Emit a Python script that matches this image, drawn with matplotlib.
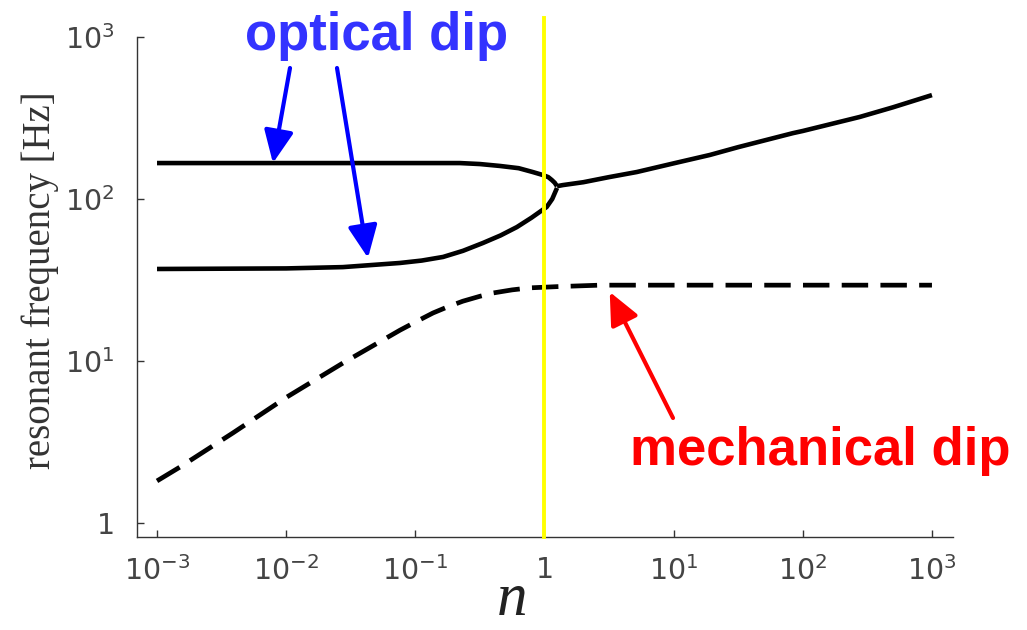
import matplotlib
matplotlib.use("Agg")
import matplotlib.pyplot as plt
from matplotlib.ticker import FixedLocator, FixedFormatter, NullLocator

plt.rcParams['font.family'] = ['DejaVu Sans']
plt.rcParams['mathtext.fontset'] = 'custom'
plt.rcParams['mathtext.rm'] = 'DejaVu Sans'
plt.rcParams['mathtext.it'] = 'Liberation Serif:italic'

# ---- data ----
opt_upper_n = [1e-3, 0.01, 0.1, 0.221, 0.316, 0.452, 0.631, 0.81, 0.97, 1.07, 1.14, 1.2, 1.25]
opt_upper_f = [166.7, 166.7, 166.7, 166.7, 164.4, 160, 155, 146.8, 140.7, 136.5, 131, 126, 120]

opt_lower_n = [1e-3, 0.01, 0.0275, 0.076, 0.112, 0.164, 0.234, 0.333, 0.457, 0.611,
               0.794, 1.04, 1.148, 1.25]
opt_lower_f = [37.0, 37.3, 38.0, 40.3, 41.7, 43.9, 47.9, 53.5, 59.6, 67.1,
               76.7, 89.3, 100, 117]

merged_n = [1.25, 1.387, 2.0, 3.16, 5.19, 10, 19.05, 31.6, 83.8, 100, 276, 498, 1000]
merged_f = [120, 121.9, 127, 136.5, 146.8, 166, 187, 209, 255, 263, 321, 368, 438]

mech_n = [1e-3, 0.00151, 0.00387, 0.01014, 0.0275, 0.076, 0.1, 0.137, 0.178, 0.233,
          0.316, 0.399, 0.562, 0.771, 1.26, 2.69, 10, 100, 1000]
mech_f = [1.82, 2.22, 3.60, 6.0, 9.72, 15.5, 17.4, 19.8, 21.6, 23.4,
          25.1, 26.3, 27.5, 28.3, 28.8, 29.4, 29.4, 29.4, 29.4]

xticks = [1e-3, 1e-2, 1e-1, 1, 1e1, 1e2, 1e3]
xticklabels = [r'$\mathregular{10^{-3}}$', r'$\mathregular{10^{-2}}$',
               r'$\mathregular{10^{-1}}$', '1', r'$\mathregular{10^{1}}$',
               r'$\mathregular{10^{2}}$', r'$\mathregular{10^{3}}$']
yticks = [1, 1e1, 1e2, 1e3]
yticklabels = ['1', r'$\mathregular{10^{1}}$', r'$\mathregular{10^{2}}$',
               r'$\mathregular{10^{3}}$']

W, H = 1027, 630
fig = plt.figure(figsize=(W / 100, H / 100), dpi=100)
ax = fig.add_axes([137 / W, (H - 537) / H, (953 - 137) / W, (537 - 37) / H])

ax.set_xscale('log')
ax.set_yscale('log')
ax.set_xlim(10 ** -3.155, 10 ** 3.163)
ax.set_ylim(10 ** -0.086, 1e3)

lw = 3.3
ax.plot(opt_upper_n, opt_upper_f, color='black', lw=lw, solid_capstyle='butt')
ax.plot(opt_lower_n, opt_lower_f, color='black', lw=lw, solid_capstyle='butt')
ax.plot(merged_n, merged_f, color='black', lw=lw, solid_capstyle='butt')
ax.plot(mech_n, mech_f, color='black', lw=3.4, linestyle=(0, (5.6, 2.6)),
        dash_capstyle='butt')

ax.axvline(1, ymin=0, ymax=(537 - 18) / 500, color='#ffff00', lw=2.8,
           clip_on=False, zorder=5)

for s in ['top', 'right']:
    ax.spines[s].set_visible(False)
for s in ['left', 'bottom']:
    ax.spines[s].set_color('#333333')
    ax.spines[s].set_linewidth(1.0)

ax.xaxis.set_major_locator(FixedLocator(xticks))
ax.xaxis.set_major_formatter(FixedFormatter(xticklabels))
ax.yaxis.set_major_locator(FixedLocator(yticks))
ax.yaxis.set_major_formatter(FixedFormatter(yticklabels))
ax.xaxis.set_minor_locator(NullLocator())
ax.yaxis.set_minor_locator(NullLocator())
ax.tick_params(axis='both', which='major', direction='in', length=5, width=1,
               color='#333333', labelcolor='#444444', labelsize=20.5)
ax.tick_params(axis='x', pad=14)
ax.tick_params(axis='y', pad=16)

fig.text(40 / W, (H - 280) / H, 'resonant frequency [Hz]', rotation=90,
         ha='center', va='center', fontsize=28, color='#333333',
         family='Liberation Serif')
fig.text(511 / W, 2 / H, r'$n$', ha='center', va='bottom',
         fontsize=44, color='#222222')

fig.text(245 / W, (H - 50) / H, 'optical dip', ha='left', va='baseline',
         fontsize=38, fontweight='bold', color='#3333ff', family='Liberation Sans')
fig.text(630 / W, (H - 465) / H, 'mechanical dip', ha='left', va='baseline',
         fontsize=38, fontweight='bold', color='#ff0000', family='Liberation Sans')

astyle = '-|>,head_length=0.55,head_width=0.25'
ax.annotate('', xy=(0.0079, 166.7), xycoords='data',
            xytext=(290, H - 68), textcoords='figure pixels',
            arrowprops=dict(arrowstyle=astyle, color='#0000ff', lw=3,
                            mutation_scale=36, shrinkA=0, shrinkB=0),
            annotation_clip=False)
ax.annotate('', xy=(0.043, 43.3), xycoords='data',
            xytext=(337, H - 68), textcoords='figure pixels',
            arrowprops=dict(arrowstyle=astyle, color='#0000ff', lw=3,
                            mutation_scale=36, shrinkA=0, shrinkB=0),
            annotation_clip=False)
ax.annotate('', xy=(3.2, 26.7), xycoords='data',
            xytext=(673, H - 418), textcoords='figure pixels',
            arrowprops=dict(arrowstyle=astyle, color='#ff0000', lw=3,
                            mutation_scale=36, shrinkA=0, shrinkB=0),
            annotation_clip=False)

fig.savefig('out.png', dpi=100)
